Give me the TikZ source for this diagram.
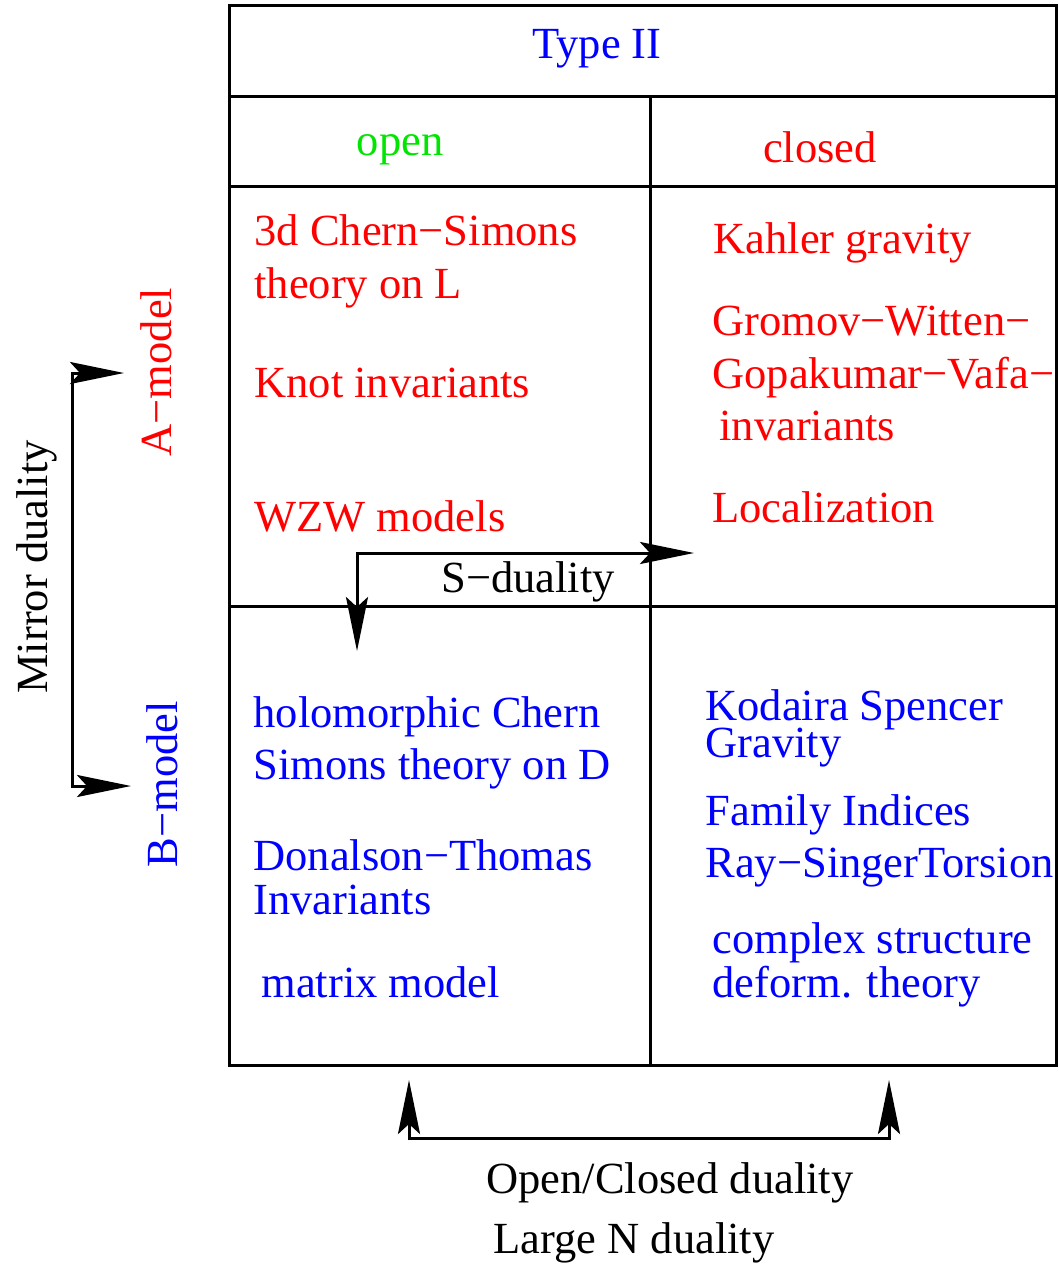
\documentclass[tikz,border=0pt]{standalone}
\usepackage{fontspec}
\setmainfont{Liberation Serif}
\usetikzlibrary{arrows.meta}
\definecolor{tred}{RGB}{255,0,0}
\definecolor{tblue}{RGB}{0,0,255}
\definecolor{tgreen}{RGB}{0,230,0}
\begin{document}
\begin{tikzpicture}[x=1pt,y=-1pt,line width=3pt,
  txt/.style={anchor=base west,inner sep=0pt,font=\fontsize{44.5}{50}\selectfont},
  ctxt/.style={anchor=base,inner sep=0pt,font=\fontsize{44.5}{50}\selectfont},
  rtxt/.style={inner sep=0pt,rotate=90,font=\fontsize{44.5}{50}\selectfont},
  tips/.style={{Stealth[length=54pt,width=22pt,inset=10pt]}-{Stealth[length=54pt,width=22pt,inset=10pt]}}]
\useasboundingbox (0,0) rectangle (1059,1264);
% table
\draw (229,5) rectangle (1056,1065);
\draw (229,96) -- (1056,96);
\draw (229,186) -- (1056,186);
\draw (229,606) -- (1056,606);
\draw (650,96) -- (650,1065);
% headers
\node[ctxt,text=tblue] (type) at (597,58) {Type II};
\node[ctxt,text=tgreen] (open) at (400,155) {open};
\node[ctxt,text=tred] (closed) at (820,162) {closed};
% A-model open
\node[txt,text=tred] (a1) at (253,245) {3d Chern−Simons};
\node[txt,text=tred] (a2) at (253,298) {theory on L};
\node[txt,text=tred] (a3) at (253,397) {Knot invariants};
\node[txt,text=tred] (a4) at (253,531) {WZW models};
% A-model closed
\node[txt,text=tred] (c1) at (712,253) {Kahler gravity};
\node[txt,text=tred] (c2) at (711,335) {Gromov−Witten−};
\node[txt,text=tred] (c3) at (711,388) {Gopakumar−Vafa−};
\node[txt,text=tred] (c4) at (718,440) {invariants};
\node[txt,text=tred] (c5) at (711,522) {Localization};
% B-model open
\node[txt,text=tblue] (b1) at (252,727) {holomorphic Chern};
\node[txt,text=tblue] (b2) at (252,779) {Simons theory on D};
\node[txt,text=tblue] (b3) at (252,870) {Donalson−Thomas};
\node[txt,text=tblue] (b4) at (252,914) {Invariants};
\node[txt,text=tblue] (b5) at (260,997) {matrix model};
% B-model closed
\node[txt,text=tblue] (d1) at (704,720) {Kodaira Spencer};
\node[txt,text=tblue] (d2) at (704,757) {Gravity};
\node[txt,text=tblue] (d3) at (704,825) {Family Indices};
\node[txt,text=tblue] (d4) at (704,877) {Ray−SingerTorsion};
\node[txt,text=tblue] (d5) at (711,953) {complex structure};
\node[txt,text=tblue] (d6) at (711,997) {deform. theory};
% side labels
\node[rtxt,text=tred] (am) at (156,372) {A−model};
\node[rtxt,text=tblue] (bm) at (162,784) {B−model};
\node[rtxt] (mirror) at (37,567) {Mirror duality};
% mirror arrow
\coordinate (mtop) at (124,373);
\coordinate (mbot) at (131,786);
\draw[tips] (mtop) -- (72,373) -- (72,786) -- (mbot);
% S-duality
\coordinate (sdn) at (357,651);
\coordinate (srt) at (694,553);
\draw[tips] (sdn) -- (357,553) -- (srt);
\node[txt] (sdual) at (440,592) {S−duality};
% open/closed
\coordinate (ol) at (409,1080);
\coordinate (or) at (889,1080);
\draw[tips] (ol) -- (409,1138) -- (889,1138) -- (or);
\node[ctxt] (ocd) at (670,1193) {Open/Closed duality};
\node[ctxt] (lnd) at (634,1253) {Large N duality};
\end{tikzpicture}
\end{document}
